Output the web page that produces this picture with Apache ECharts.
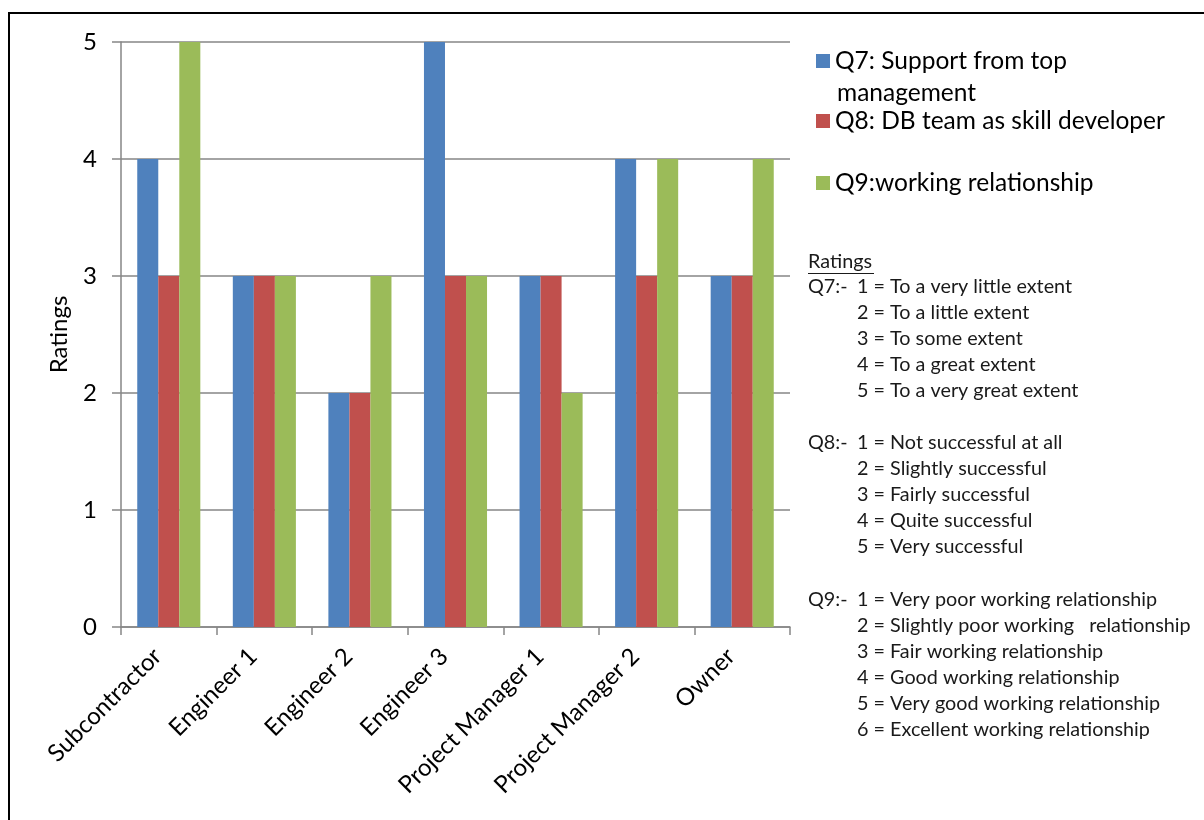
<!DOCTYPE html>
<html lang="en">
<head>
<meta charset="UTF-8">
<style>
  html, body { height: 100%; margin: 0; background: #fff; }
</style>
</head>
<body>
<div id="chart" style="width:1204px;height:820px;"></div>
<script src="https://cdn.jsdelivr.net/npm/echarts@6/dist/echarts.min.js"></script>
<script>
// data
var roles = ['Subcontractor', 'Engineer 1', 'Engineer 2', 'Engineer 3', 'Project Manager 1', 'Project Manager 2', 'Owner'];
var q7 = [4, 3, 2, 5, 3, 4, 3];
var q8 = [3, 3, 2, 3, 3, 3, 3];
var q9 = [5, 3, 3, 3, 2, 4, 4];
var seriesNames = ['Q7: Support from top management', 'Q8: DB team as skill developer', 'Q9:working relationship'];
var yTicks = [0, 1, 2, 3, 4, 5];

var q7Notes = ['1 = To a very little extent', '2 = To a little extent', '3 = To some extent', '4 = To a great extent', '5 = To a very great extent'];
var q8Notes = ['1 = Not successful at all', '2 = Slightly successful', '3 = Fairly successful', '4 = Quite successful', '5 = Very successful'];
var q9Notes = ['1 = Very poor working relationship', '2 = Slightly poor working   relationship', '3 = Fair working relationship',
  '4 = Good working relationship', '5 = Very good working relationship', '6 = Excellent working relationship'];

var FONT = 'Lato';
var colors = ['#4F81BD', '#C0504D', '#9BBB59'];

// ratings key on the right, built as text graphics
var notes = [];
function noteText(x, y, t) {
  notes.push({ type: 'text', x: x, y: y,
    style: { text: t, font: '19.8px ' + FONT, fill: '#1a1a1a', verticalAlign: 'middle' } });
}
function addBlock(label, lines, y0) {
  noteText(808, y0, label);
  lines.forEach(function (t, i) { noteText(857, y0 + i * 26, t); });
}
noteText(808, 262, 'Ratings');
notes.push({ type: 'line', shape: { x1: 808, y1: 273.5, x2: 874, y2: 273.5 },
  style: { stroke: '#1a1a1a', lineWidth: 1 } });
addBlock('Q7:-', q7Notes, 287);
addBlock('Q8:-', q8Notes, 443);
addBlock('Q9:-', q9Notes, 600);

// second line of the Q7 legend entry
notes.push({ type: 'text', x: 837, y: 93,
  style: { text: 'management', font: '24.5px ' + FONT, fill: '#000', verticalAlign: 'middle' } });

// frame around the whole chart
notes.push({ type: 'rect', shape: { x: 9, y: 13, width: 1210, height: 830 },
  style: { fill: 'none', stroke: '#000', lineWidth: 2 }, z: 100 });

function legendFor(i, top, fmt) {
  return {
    data: [seriesNames[i]], left: 816, top: top, padding: 0,
    itemWidth: 14, itemHeight: 14, icon: 'rect',
    formatter: function () { return fmt; },
    textStyle: { fontFamily: FONT, fontSize: 24.5, color: '#000', lineHeight: 32 }
  };
}

var myChart = echarts.init(document.getElementById('chart'));
myChart.setOption({
  animation: false,
  color: colors,
  grid: { left: 121, right: 414, top: 42, bottom: 193, containLabel: false },
  legend: [
    legendFor(0, 45, 'Q7: Support from top'),
    legendFor(1, 105, 'Q8: DB team as skill developer'),
    legendFor(2, 167, 'Q9:working relationship')
  ],
  xAxis: {
    type: 'category',
    data: roles,
    axisLine: { lineStyle: { color: '#868686', width: 1.5 } },
    axisTick: { show: true, length: 8, lineStyle: { color: '#868686', width: 1.5 } },
    axisLabel: { rotate: 45, margin: 14, padding: [0, 16, 0, 0], fontFamily: FONT, fontSize: 24, color: '#000', interval: 0 }
  },
  yAxis: {
    type: 'value',
    min: yTicks[0], max: yTicks[yTicks.length - 1], interval: 1,
    name: 'Ratings', nameLocation: 'middle', nameGap: 50, nameRotate: 90,
    nameTextStyle: { fontFamily: FONT, fontSize: 24, color: '#000' },
    axisLine: { show: true, lineStyle: { color: '#868686', width: 1.5 } },
    axisTick: { show: true, length: 9, lineStyle: { color: '#868686', width: 1.5 } },
    axisLabel: { margin: 24, fontFamily: FONT, fontSize: 24, color: '#000' },
    splitLine: { lineStyle: { color: '#868686', width: 1.5 } }
  },
  series: [
    { name: seriesNames[0], type: 'bar', data: q7, barGap: '0%', barCategoryGap: '34%' },
    { name: seriesNames[1], type: 'bar', data: q8 },
    { name: seriesNames[2], type: 'bar', data: q9 }
  ],
  graphic: notes
});
</script>
</body>
</html>
